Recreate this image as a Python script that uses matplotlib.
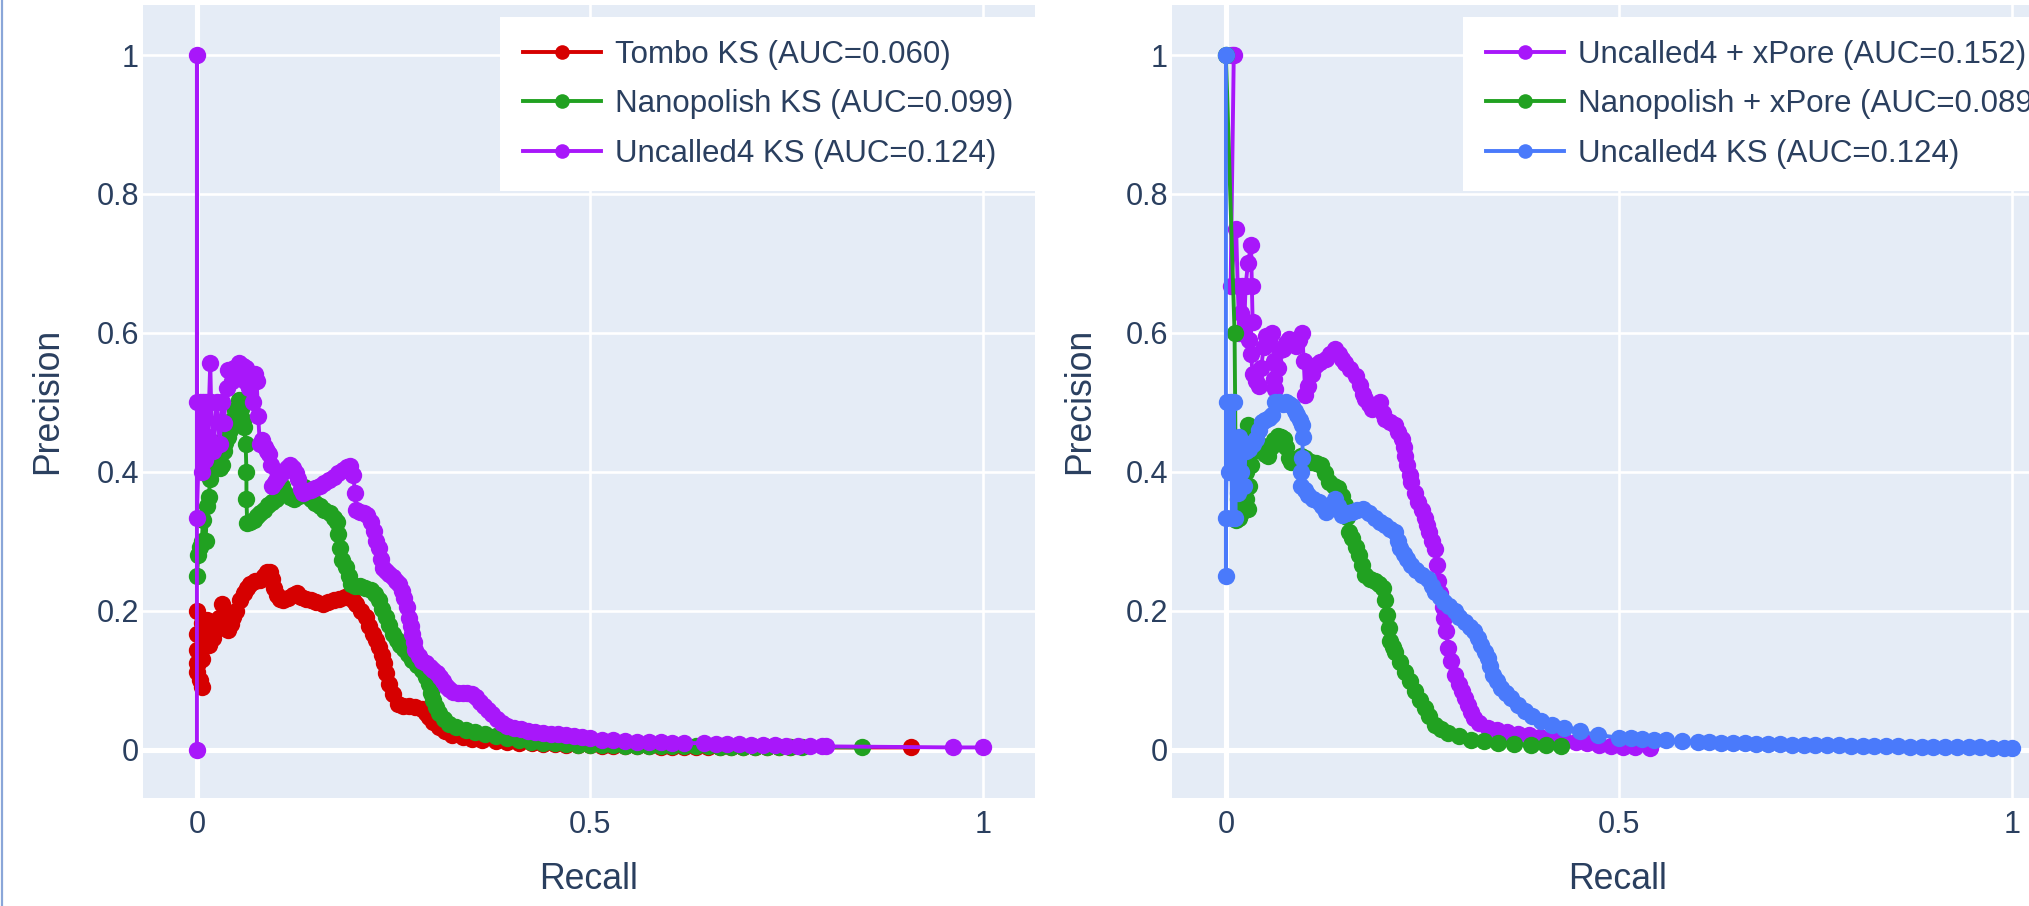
import numpy as np
import matplotlib.pyplot as plt
from matplotlib.lines import Line2D
from matplotlib.ticker import FuncFormatter

plt.rcParams['font.family'] = ['Liberation Sans', 'DejaVu Sans']

# (recall, precision), in drawing order

# left panel
tombo_ks = [
    (0, 0.2), (0, 0.167), (0, 0.143), (0, 0.125), (0, 0.111), (0.002, 0.125), (0.004, 0.1),
    (0.006, 0.09), (0.007, 0.13), (0.006, 0.182), (0.008, 0.16), (0.010, 0.17), (0.013, 0.186),
    (0.015, 0.15), (0.017, 0.16), (0.019, 0.17), (0.021, 0.16), (0.023, 0.175), (0.025, 0.173),
    (0.028, 0.19), (0.032, 0.21), (0.035, 0.19), (0.038, 0.175), (0.040, 0.172), (0.043, 0.18),
    (0.046, 0.191), (0.050, 0.2), (0.055, 0.215), (0.060, 0.225), (0.064, 0.232), (0.068, 0.239),
    (0.074, 0.242), (0.080, 0.244), (0.085, 0.25), (0.089, 0.256), (0.093, 0.255), (0.096, 0.245),
    (0.098, 0.232), (0.102, 0.222), (0.106, 0.217), (0.110, 0.215), (0.116, 0.218), (0.122, 0.222),
    (0.127, 0.225), (0.133, 0.22), (0.139, 0.217), (0.145, 0.215), (0.152, 0.212), (0.160, 0.21),
    (0.167, 0.213), (0.174, 0.215), (0.181, 0.217), (0.188, 0.219), (0.194, 0.22), (0.199, 0.215),
    (0.203, 0.21), (0.209, 0.2), (0.215, 0.191), (0.219, 0.178), (0.224, 0.167), (0.228, 0.158),
    (0.232, 0.148), (0.235, 0.136), (0.238, 0.124), (0.241, 0.11), (0.245, 0.095), (0.250, 0.08),
    (0.256, 0.066), (0.262, 0.063), (0.270, 0.062), (0.278, 0.061), (0.287, 0.059), (0.291, 0.053),
    (0.295, 0.047), (0.301, 0.04), (0.308, 0.033), (0.316, 0.026), (0.325, 0.021), (0.338, 0.018),
    (0.350, 0.015), (0.363, 0.013), (0.380, 0.012), (0.395, 0.011), (0.410, 0.010), (0.426, 0.009),
    (0.440, 0.008), (0.455, 0.0075), (0.470, 0.007), (0.485, 0.0065), (0.500, 0.006), (0.515, 0.0055),
    (0.530, 0.005), (0.545, 0.005), (0.560, 0.0045), (0.575, 0.0045), (0.590, 0.004), (0.605, 0.004),
    (0.620, 0.004), (0.635, 0.0035), (0.650, 0.0035), (0.665, 0.0035), (0.680, 0.003), (0.695, 0.003),
    (0.710, 0.003), (0.725, 0.003), (0.740, 0.003), (0.755, 0.003), (0.908, 0.003),
]
nanopolish_ks = [
    (0, 0.25), (0.002, 0.28), (0.004, 0.292), (0.006, 0.30), (0.008, 0.33), (0.011, 0.30),
    (0.013, 0.35), (0.015, 0.364), (0.017, 0.39), (0.019, 0.403), (0.021, 0.42), (0.023, 0.435),
    (0.025, 0.441), (0.028, 0.42), (0.030, 0.405), (0.032, 0.41), (0.034, 0.43), (0.036, 0.441),
    (0.039, 0.45), (0.042, 0.46), (0.045, 0.475), (0.049, 0.489), (0.053, 0.503), (0.056, 0.49),
    (0.058, 0.475), (0.060, 0.465), (0.062, 0.44), (0.063, 0.40), (0.063, 0.36), (0.064, 0.326),
    (0.068, 0.328), (0.072, 0.331), (0.076, 0.336), (0.080, 0.340), (0.085, 0.345), (0.090, 0.352),
    (0.095, 0.356), (0.100, 0.36), (0.104, 0.37), (0.108, 0.379), (0.112, 0.37), (0.118, 0.364),
    (0.124, 0.36), (0.130, 0.365), (0.136, 0.378), (0.140, 0.37), (0.145, 0.36), (0.150, 0.355),
    (0.156, 0.350), (0.162, 0.345), (0.169, 0.340), (0.174, 0.334), (0.178, 0.328), (0.180, 0.31),
    (0.182, 0.29), (0.185, 0.273), (0.190, 0.263), (0.193, 0.25), (0.196, 0.238), (0.201, 0.236),
    (0.207, 0.235), (0.214, 0.233), (0.221, 0.230), (0.227, 0.224), (0.232, 0.215), (0.236, 0.203),
    (0.241, 0.191), (0.245, 0.179), (0.249, 0.167), (0.254, 0.158), (0.259, 0.151), (0.264, 0.145),
    (0.269, 0.137), (0.274, 0.129), (0.280, 0.122), (0.287, 0.114), (0.291, 0.105), (0.295, 0.094),
    (0.298, 0.082), (0.300, 0.071), (0.304, 0.061), (0.308, 0.052), (0.314, 0.044), (0.321, 0.037),
    (0.330, 0.032), (0.342, 0.028), (0.354, 0.025), (0.366, 0.022), (0.380, 0.019), (0.395, 0.016),
    (0.410, 0.013), (0.425, 0.011), (0.440, 0.010), (0.455, 0.009), (0.470, 0.008), (0.485, 0.007),
    (0.500, 0.0065), (0.515, 0.006), (0.530, 0.006), (0.545, 0.0055), (0.560, 0.0055), (0.575, 0.005),
    (0.590, 0.005), (0.605, 0.005), (0.620, 0.0045), (0.635, 0.0045), (0.650, 0.0045), (0.665, 0.004),
    (0.680, 0.004), (0.695, 0.004), (0.710, 0.004), (0.725, 0.0035), (0.740, 0.0035), (0.755, 0.0035),
    (0.770, 0.0035), (0.846, 0.003),
]
uncalled4_ks = [
    (0, 0), (0, 1.0), (0, 0.5), (0, 0.333), (0.004, 0.5), (0.006, 0.4), (0.008, 0.5), (0.010, 0.417),
    (0.012, 0.5), (0.014, 0.45), (0.017, 0.557), (0.018, 0.5), (0.021, 0.43), (0.025, 0.5),
    (0.029, 0.44), (0.032, 0.5), (0.034, 0.47), (0.038, 0.52), (0.040, 0.547), (0.044, 0.53),
    (0.047, 0.55), (0.050, 0.540), (0.053, 0.557), (0.056, 0.545), (0.058, 0.552), (0.061, 0.530),
    (0.063, 0.549), (0.066, 0.52), (0.068, 0.535), (0.071, 0.50), (0.074, 0.54), (0.076, 0.53),
    (0.078, 0.48), (0.080, 0.44), (0.083, 0.445), (0.086, 0.435), (0.089, 0.43), (0.092, 0.425),
    (0.094, 0.41), (0.096, 0.38), (0.099, 0.385), (0.102, 0.39), (0.106, 0.395), (0.110, 0.40),
    (0.114, 0.405), (0.118, 0.41), (0.122, 0.405), (0.126, 0.398), (0.129, 0.39), (0.132, 0.375),
    (0.135, 0.37), (0.140, 0.372), (0.145, 0.374), (0.150, 0.376), (0.156, 0.38), (0.162, 0.384),
    (0.168, 0.388), (0.174, 0.393), (0.180, 0.398), (0.186, 0.403), (0.191, 0.407), (0.195, 0.408),
    (0.199, 0.395), (0.201, 0.37), (0.203, 0.345), (0.207, 0.342), (0.212, 0.341), (0.217, 0.338),
    (0.221, 0.328), (0.225, 0.315), (0.228, 0.30), (0.232, 0.29), (0.234, 0.275), (0.237, 0.262),
    (0.241, 0.257), (0.245, 0.253), (0.249, 0.248), (0.253, 0.242), (0.257, 0.238), (0.261, 0.228),
    (0.264, 0.218), (0.267, 0.205), (0.270, 0.19), (0.272, 0.178), (0.274, 0.166), (0.276, 0.155),
    (0.278, 0.144), (0.282, 0.135), (0.286, 0.128), (0.291, 0.124), (0.296, 0.119), (0.301, 0.115),
    (0.305, 0.110), (0.309, 0.104), (0.313, 0.098), (0.317, 0.092), (0.321, 0.087), (0.326, 0.083),
    (0.332, 0.081), (0.338, 0.081), (0.344, 0.081), (0.350, 0.080), (0.355, 0.075), (0.360, 0.069),
    (0.365, 0.063), (0.370, 0.057), (0.376, 0.051), (0.382, 0.044), (0.388, 0.038), (0.395, 0.034),
    (0.403, 0.031), (0.412, 0.029), (0.421, 0.027), (0.430, 0.025), (0.440, 0.024), (0.450, 0.023),
    (0.460, 0.022), (0.470, 0.021), (0.480, 0.019), (0.490, 0.018), (0.500, 0.016), (0.515, 0.014),
    (0.530, 0.013), (0.545, 0.012), (0.560, 0.0115), (0.575, 0.011), (0.590, 0.0105), (0.605, 0.010),
    (0.620, 0.0095), (0.645, 0.009), (0.660, 0.0085), (0.675, 0.008), (0.690, 0.0075), (0.705, 0.007),
    (0.720, 0.0065), (0.735, 0.006), (0.750, 0.0055), (0.765, 0.005), (0.780, 0.005), (0.795, 0.0045),
    (0.800, 0.0045), (0.962, 0.003), (1.0, 0.003),
]

# right panel
uncalled4_xpore = [
    (0.008, 1.0), (0.010, 1.0), (0.006, 0.667), (0.013, 0.75), (0.015, 0.667), (0.017, 0.60),
    (0.019, 0.629), (0.021, 0.667), (0.023, 0.60), (0.025, 0.667), (0.028, 0.70), (0.032, 0.727),
    (0.033, 0.667), (0.034, 0.615), (0.030, 0.59), (0.032, 0.57), (0.034, 0.54), (0.038, 0.53),
    (0.042, 0.524), (0.045, 0.55), (0.048, 0.58), (0.051, 0.596), (0.055, 0.59), (0.059, 0.60),
    (0.061, 0.56), (0.061, 0.533), (0.063, 0.519), (0.066, 0.55), (0.069, 0.575), (0.072, 0.577),
    (0.076, 0.585), (0.080, 0.591), (0.084, 0.585), (0.089, 0.581), (0.093, 0.59), (0.097, 0.60),
    (0.099, 0.56), (0.101, 0.51), (0.105, 0.524), (0.109, 0.54), (0.114, 0.553), (0.120, 0.558),
    (0.127, 0.562), (0.133, 0.57), (0.139, 0.577), (0.144, 0.57), (0.148, 0.562), (0.152, 0.557),
    (0.158, 0.548), (0.165, 0.538), (0.170, 0.525), (0.174, 0.512), (0.177, 0.505), (0.182, 0.497),
    (0.186, 0.49), (0.191, 0.496), (0.196, 0.50), (0.200, 0.485), (0.203, 0.476), (0.209, 0.472),
    (0.215, 0.467), (0.219, 0.457), (0.224, 0.447), (0.226, 0.435), (0.228, 0.423), (0.231, 0.41),
    (0.234, 0.395), (0.236, 0.385), (0.240, 0.37), (0.245, 0.356), (0.249, 0.345), (0.253, 0.333),
    (0.256, 0.323), (0.259, 0.313), (0.262, 0.30), (0.266, 0.289), (0.268, 0.265), (0.270, 0.242),
    (0.273, 0.225), (0.276, 0.205), (0.278, 0.189), (0.280, 0.17), (0.283, 0.146), (0.287, 0.127),
    (0.291, 0.108), (0.296, 0.095), (0.300, 0.084), (0.304, 0.074), (0.308, 0.064), (0.312, 0.054),
    (0.316, 0.045), (0.322, 0.038), (0.333, 0.031), (0.345, 0.028), (0.358, 0.025), (0.372, 0.023),
    (0.386, 0.021), (0.400, 0.018), (0.415, 0.016), (0.430, 0.013), (0.445, 0.011), (0.460, 0.009),
    (0.475, 0.007), (0.490, 0.005), (0.505, 0.004), (0.520, 0.003), (0.540, 0.002),
]
nanopolish_xpore = [
    (0.0, 1.0), (0.011, 0.60), (0.013, 0.33), (0.015, 0.36), (0.017, 0.333), (0.019, 0.34),
    (0.021, 0.36), (0.023, 0.38), (0.025, 0.40), (0.026, 0.36), (0.028, 0.347), (0.030, 0.38),
    (0.032, 0.409), (0.030, 0.44), (0.028, 0.467), (0.032, 0.45), (0.035, 0.43), (0.038, 0.433),
    (0.042, 0.44), (0.046, 0.43), (0.050, 0.425), (0.053, 0.423), (0.057, 0.435), (0.061, 0.445),
    (0.066, 0.452), (0.070, 0.45), (0.074, 0.447), (0.077, 0.435), (0.080, 0.42), (0.083, 0.414),
    (0.088, 0.418), (0.095, 0.423), (0.100, 0.42), (0.108, 0.414), (0.114, 0.412), (0.121, 0.409),
    (0.126, 0.398), (0.131, 0.385), (0.137, 0.38), (0.143, 0.376), (0.148, 0.365), (0.152, 0.352),
    (0.154, 0.335), (0.156, 0.313), (0.160, 0.305), (0.165, 0.292), (0.169, 0.280), (0.173, 0.266),
    (0.177, 0.251), (0.183, 0.246), (0.190, 0.242), (0.195, 0.238), (0.200, 0.232), (0.203, 0.215),
    (0.205, 0.194), (0.207, 0.175), (0.209, 0.156), (0.212, 0.148), (0.215, 0.141), (0.221, 0.126),
    (0.228, 0.112), (0.234, 0.098), (0.241, 0.084), (0.247, 0.072), (0.253, 0.060), (0.259, 0.048),
    (0.266, 0.036), (0.274, 0.029), (0.283, 0.024), (0.297, 0.019), (0.312, 0.014), (0.328, 0.012),
    (0.346, 0.010), (0.366, 0.0085), (0.388, 0.007), (0.407, 0.006), (0.426, 0.005),
]
uncalled4_ks_right = [
    (0.0, 1.0), (0.0, 0.25), (0.0, 0.333), (0.002, 0.5), (0.004, 0.4), (0.006, 0.5), (0.008, 0.333),
    (0.010, 0.5), (0.012, 0.333), (0.013, 0.43), (0.015, 0.37), (0.017, 0.45), (0.019, 0.40),
    (0.021, 0.44), (0.023, 0.38), (0.025, 0.43), (0.028, 0.44), (0.030, 0.433), (0.034, 0.44),
    (0.038, 0.447), (0.042, 0.46), (0.046, 0.471), (0.050, 0.475), (0.055, 0.478), (0.059, 0.481),
    (0.063, 0.5), (0.068, 0.5), (0.072, 0.497), (0.076, 0.5), (0.080, 0.497), (0.084, 0.495),
    (0.088, 0.488), (0.091, 0.481), (0.094, 0.474), (0.097, 0.467), (0.098, 0.45), (0.097, 0.42),
    (0.096, 0.40), (0.095, 0.38), (0.100, 0.373), (0.105, 0.366), (0.111, 0.361), (0.118, 0.356),
    (0.122, 0.35), (0.127, 0.342), (0.133, 0.352), (0.139, 0.361), (0.143, 0.35), (0.148, 0.337),
    (0.154, 0.34), (0.160, 0.342), (0.167, 0.345), (0.175, 0.347), (0.182, 0.34), (0.190, 0.333),
    (0.196, 0.328), (0.203, 0.323), (0.209, 0.318), (0.215, 0.313), (0.219, 0.30), (0.222, 0.29),
    (0.226, 0.282), (0.231, 0.274), (0.236, 0.266), (0.242, 0.258), (0.249, 0.251), (0.257, 0.246),
    (0.262, 0.236), (0.266, 0.227), (0.272, 0.22), (0.278, 0.213), (0.284, 0.206), (0.291, 0.199),
    (0.297, 0.191), (0.304, 0.184), (0.310, 0.177), (0.316, 0.170), (0.321, 0.16), (0.325, 0.151),
    (0.329, 0.14), (0.333, 0.132), (0.336, 0.12), (0.340, 0.108), (0.345, 0.098), (0.350, 0.089),
    (0.356, 0.081), (0.363, 0.074), (0.371, 0.064), (0.380, 0.055), (0.390, 0.048), (0.401, 0.041),
    (0.415, 0.036), (0.430, 0.031), (0.450, 0.026), (0.473, 0.021), (0.500, 0.017), (0.515, 0.016),
    (0.530, 0.015), (0.545, 0.014), (0.560, 0.013), (0.580, 0.012), (0.600, 0.011), (0.615, 0.0105),
    (0.630, 0.010), (0.645, 0.0095), (0.660, 0.009), (0.675, 0.0085), (0.690, 0.008), (0.705, 0.0075),
    (0.720, 0.007), (0.735, 0.0068), (0.750, 0.0065), (0.765, 0.0062), (0.780, 0.006), (0.795, 0.0057),
    (0.810, 0.0054), (0.825, 0.0051), (0.840, 0.0048), (0.855, 0.0045), (0.870, 0.0042), (0.885, 0.004),
    (0.900, 0.0038), (0.915, 0.0036), (0.930, 0.0034), (0.945, 0.0032), (0.960, 0.003), (0.975, 0.0028),
    (0.990, 0.0026), (1.0, 0.0025),
]

left_labels = ['Tombo KS (AUC=0.060)', 'Nanopolish KS (AUC=0.099)', 'Uncalled4 KS (AUC=0.124)']
right_labels = ['Uncalled4 + xPore (AUC=0.152)', 'Nanopolish + xPore (AUC=0.089)',
                'Uncalled4 KS (AUC=0.124)']
left_colors = ['#d60000', '#21a121', '#a817fa']
right_colors = ['#a817fa', '#21a121', '#4a7afb']
x_ticks = [0, 0.5, 1]
y_ticks = [0, 0.2, 0.4, 0.6, 0.8, 1]

TEXT = '#2a3f5f'
BG = '#e5ecf6'

fig = plt.figure(figsize=(20.29, 9.06), dpi=100)
fig.patch.set_facecolor('white')

# thin blue border at the left edge of the screenshot
fig.add_artist(Line2D([0.0008, 0.0008], [0, 1], transform=fig.transFigure,
                      color='#8aa6d8', lw=1.6))

ax1 = fig.add_axes([143 / 2029, 1 - 797.5 / 906, 892 / 2029, 792.5 / 906])
ax2 = fig.add_axes([1172 / 2029, 1 - 797.5 / 906, 892 / 2029, 792.5 / 906])


def draw(ax, series, labels, colors, legend_x, ylabel_x):
    ax.set_facecolor(BG)
    for s in ['top', 'right', 'bottom', 'left']:
        ax.spines[s].set_visible(False)
    ax.set_axisbelow(True)
    ax.grid(True, color='white', lw=1.9)
    ax.axhline(0, color='white', lw=3.7, zorder=1)
    ax.axvline(0, color='white', lw=3.7, zorder=1)

    for data, lab, col in zip(series, labels, colors):
        r, p = np.array(data).T
        ax.plot(r, p, '-o', color=col, lw=2.8, ms=12.5, mew=0, label=lab, zorder=2)

    ax.set_xlim(-0.0686, 1.0663)
    ax.set_ylim(-0.0691, 1.072)
    ax.set_xticks(x_ticks)
    ax.set_yticks(y_ticks)
    fmt = FuncFormatter(lambda v, _: f'{v:g}')
    ax.xaxis.set_major_formatter(fmt)
    ax.yaxis.set_major_formatter(fmt)
    ax.tick_params(axis='both', length=0, labelsize=22, labelcolor=TEXT)
    ax.tick_params(axis='x', pad=9)
    ax.tick_params(axis='y', pad=3)

    ax.set_xlabel('Recall', fontsize=25.7, color=TEXT)
    ax.set_ylabel('Precision', fontsize=25.7, color=TEXT)
    ax.xaxis.set_label_coords(0.5, -0.0814)
    ax.yaxis.set_label_coords(ylabel_x, 0.5)

    leg = ax.legend(loc='upper left', bbox_to_anchor=(legend_x, 0.9849), borderaxespad=0,
                    fontsize=22.5, labelcolor=TEXT, frameon=True, fancybox=False,
                    facecolor='white', edgecolor='white', framealpha=1,
                    handlelength=2.51, handletextpad=0.44, labelspacing=0.62,
                    borderpad=0.73, numpoints=1, markerscale=10.5 / 12.5)
    leg.get_frame().set_linewidth(0)
    leg.set_zorder(5)


draw(ax1, [tombo_ks, nanopolish_ks, uncalled4_ks], left_labels, left_colors,
     (500 - 143) / 892, -0.087)
draw(ax2, [uncalled4_xpore, nanopolish_xpore, uncalled4_ks_right], right_labels, right_colors,
     (1463 - 1172) / 892, -0.084)

fig.savefig('out.png', dpi=100)
